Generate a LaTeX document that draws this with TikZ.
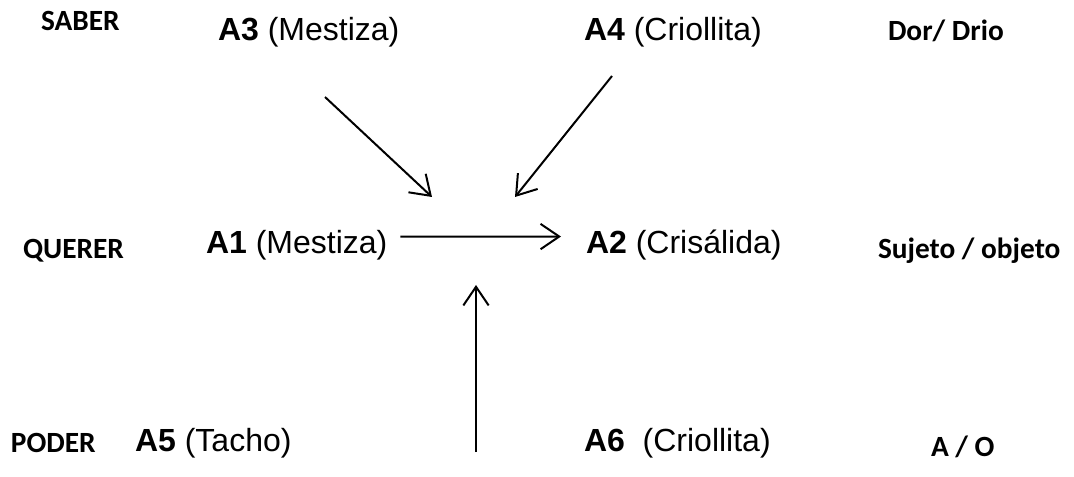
\documentclass[tikz,border=0pt]{standalone}
\usepackage{fontspec}
\setmainfont{Liberation Sans}
\newfontfamily\calibri{Carlito}
\usetikzlibrary{arrows.meta}

\begin{document}
\begin{tikzpicture}[x=0.75pt,y=-0.75pt,line width=1.5pt,
actant/.style={
inner sep=0pt,
anchor=base west,
font=\fontsize{24}{28}\selectfont
},
modal/.style={
inner sep=0pt,
anchor=base west,
font=\calibri\bfseries\fontsize{22}{26}\selectfont
},
arr/.style={-{Straight Barb[length=14pt,width=19pt]}}
]
\useasboundingbox (0,0) rectangle (1074,477);

% modalities
\node (saber) [modal] at (40,31) {SABER};
\node (querer) [modal] at (22,259) {QUERER};
\node (poder) [modal] at (10,452) {PODER};
\node (dordrio) [modal] at (887,41) {Dor/ Drio};
\node (sujobj) [modal] at (877,259) {Sujeto / objeto};
\node (ayo) [modal] at (930,456) {A / O};

% actants
\node (a3) [actant] at (217,41) {\textbf{A3} (Mestiza)};
\node (a4) [actant] at (583,41) {\textbf{A4} (Criollita)};
\node (a1) [actant] at (205,253) {\textbf{A1} (Mestiza)};
\node (a2) [actant] at (585,253) {\textbf{A2} (Crisálida)};
\node (a5) [actant] at (134,451) {\textbf{A5} (Tacho)};
\node (a6) [actant] at (583,451) {\textbf{A6}\ \ (Criollita)};

\coordinate (from3) at (325,97);
\coordinate (to3) at (432,197);
\coordinate (from4) at (612,76);
\coordinate (to4) at (515,197);
\coordinate (from5) at (476,452);
\coordinate (to5) at (476,285);

\draw[arr] (from3) -- (to3);
\draw[arr] (from4) -- (to4);
\draw[arr] ([xshift=9pt,yshift=6pt]a1.east) -- ([xshift=-18pt,yshift=6pt]a2.west);
\draw[arr] (from5) -- (to5);
\end{tikzpicture}
\end{document}
